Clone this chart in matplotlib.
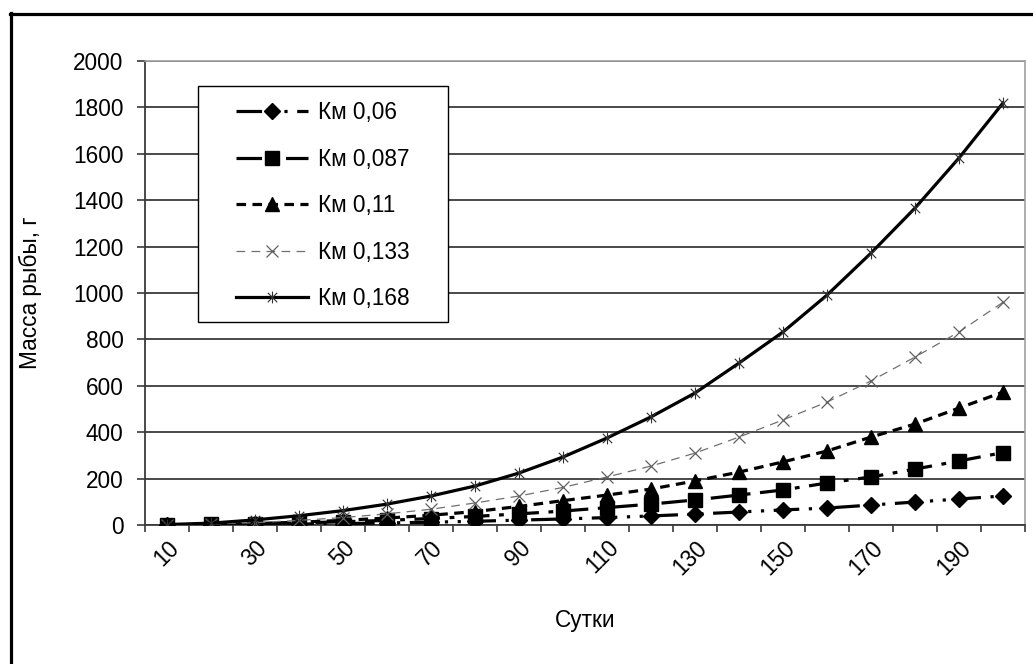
import matplotlib
matplotlib.use("Agg")
import matplotlib.pyplot as plt
from matplotlib.lines import Line2D
from matplotlib.patches import Rectangle
from matplotlib.path import Path
import numpy as np

plt.rcParams['font.family'] = ['Liberation Sans', 'DejaVu Sans']

days = [10, 20, 30, 40, 50, 60, 70, 80, 90, 100, 110, 120, 130, 140, 150, 160, 170, 180, 190, 200]
km_006 = [1, 1.5, 2.5, 4, 6, 9, 12, 16, 21, 26, 32, 39, 47, 56, 65, 73, 86, 99, 112, 125]
km_0087 = [1, 2.5, 5, 9, 14, 20, 28, 37, 48, 60, 75, 90, 108, 129, 151, 181, 207, 241, 276, 312]
km_011 = [1, 3, 6, 12, 20, 30, 42, 58, 80, 105, 129, 155, 190, 228, 272, 319, 379, 435, 504, 573]
km_0133 = [1, 4, 10, 20, 32, 48, 68, 95, 125, 162, 207, 254, 310, 379, 453, 530, 621, 724, 832, 960]
km_0168 = [2, 8, 22, 40, 62, 90, 125, 168, 224, 293, 375, 466, 569, 698, 832, 991, 1172, 1366, 1582, 1819]
labels = ["Км 0,06", "Км 0,087", "Км 0,11", "Км 0,133", "Км 0,168"]
yticks = [0, 200, 400, 600, 800, 1000, 1200, 1400, 1600, 1800, 2000]

W, H = 1033, 664
fig = plt.figure(figsize=(W / 100, H / 100), dpi=100)
fig.patch.set_facecolor('white')
L, R, T, B = 145, 1025, 61, 525
ax = fig.add_axes([L / W, 1 - B / H, (R - L) / W, (B - T) / H])

x = np.arange(len(days))

star = Path([(-1, -1), (1, 1), (-1, 1), (1, -1), (0, -1.25), (0, 1.25)],
            [Path.MOVETO, Path.LINETO, Path.MOVETO, Path.LINETO, Path.MOVETO, Path.LINETO])

lw = 2.3
ax.plot(x, km_006, color='black', lw=lw, dashes=(8, 3, 1, 3, 1, 3), marker='D', ms=8.5,
        mfc='black', mec='black', label=labels[0], zorder=3)
ax.plot(x, km_0087, color='black', lw=lw, dashes=(8, 3, 1.5, 3), marker='s', ms=9.5,
        mfc='black', mec='black', label=labels[1], zorder=3)
ax.plot(x, km_011, color='black', lw=lw, dashes=(3, 2), marker='^', ms=9.5,
        mfc='black', mec='black', label=labels[2], zorder=3)
ax.plot(x, km_0133, color='#707070', lw=0.9, dashes=(7, 5), marker='x', ms=8,
        mec='#606060', mew=0.9, label=labels[3], zorder=3)
ax.plot(x, km_0168, color='black', lw=lw, marker=star, ms=8.5,
        mec='#303030', mew=0.8, label=labels[4], zorder=3)

ax.set_xlim(-0.5, len(days) - 0.5)
ax.set_ylim(0, 2000)
ax.set_yticks(yticks)
ax.set_yticklabels([str(v) for v in yticks])
ax.yaxis.grid(True, color='#3a3a3a', lw=1.3)
ax.set_axisbelow(True)

fs = 16.3
ax.set_xticks(x[::2])
ax.set_xticklabels([str(d) for d in days[::2]], rotation=45, ha='right', va='top',
                   rotation_mode='anchor')
ax.set_xticks(np.arange(len(days) + 1) - 0.5, minor=True)
ax.tick_params(axis='x', which='major', length=0, pad=8, labelsize=fs)
ax.tick_params(axis='x', which='minor', length=5, width=1.2, color='#3a3a3a', direction='out')
ax.tick_params(axis='y', length=5.5, width=1.2, color='#3a3a3a', pad=10, labelsize=fs)

for s in ['top', 'right']:
    ax.spines[s].set_color('#a0a0a0')
    ax.spines[s].set_linewidth(1.2)
for s in ['left', 'bottom']:
    ax.spines[s].set_color('#3a3a3a')
    ax.spines[s].set_linewidth(1.3)

leg = ax.legend(loc='upper left', bbox_to_anchor=((236 - L) / (R - L), (B - 101) / (B - T)),
                frameon=False, fontsize=fs, handlelength=3.2, handletextpad=0.4,
                labelspacing=1.04, borderaxespad=0, borderpad=0, numpoints=1)
box = Rectangle(((198 - L) / (R - L), (B - 322) / (B - T)), (448 - 198) / (R - L), (322 - 86) / (B - T),
                transform=ax.transAxes, facecolor='white', edgecolor='black', lw=1.0, zorder=4)
ax.add_patch(box)
leg.set_zorder(5)

fig.text(30 / W, 1 - 293 / H, "Масса рыбы, г", rotation=90, ha='center', va='center', fontsize=fs)
fig.text(585 / W, 1 - 621 / H, "Сутки", ha='center', va='center', fontsize=fs)

fig.add_artist(Line2D([11 / W, 11 / W], [0, 1 - 13 / H], color='black', lw=2.3, transform=fig.transFigure))
fig.add_artist(Line2D([10 / W, 1], [1 - 14 / H, 1 - 14 / H], color='black', lw=2.3, transform=fig.transFigure))

fig.savefig("out.png", dpi=100, facecolor='white')
